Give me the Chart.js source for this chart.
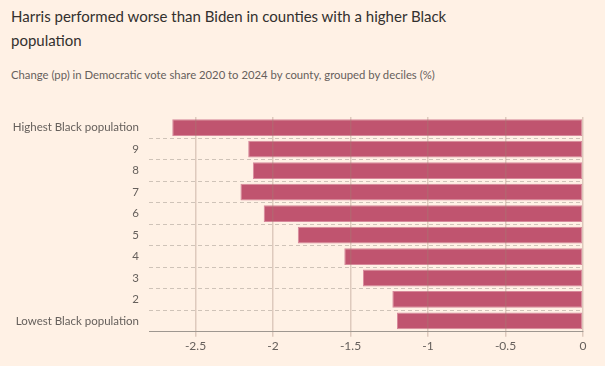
<!DOCTYPE html>
<html>
<head>
<meta charset="utf-8">
<script src="https://cdn.jsdelivr.net/npm/chart.js@4/dist/chart.umd.min.js"></script>
<style>
    body { margin: 0; background: #fff1e5; width: 605px; height: 366px; overflow: hidden; position: relative; font-family: Lato, "Open Sans", sans-serif; }
    h1 { position: absolute; left: 11px; top: 4px; width: 560px; margin: 0; font-size: 15px; line-height: 24px; font-weight: normal; color: #33302e; }
    p { position: absolute; left: 11px; top: 68px; margin: 0; font-size: 11.3px; color: #66605c; }
    #wrap { position: absolute; left: 0; top: 100px; width: 605px; height: 266px; }
</style>
</head>
<body>
<h1>Harris performed worse than Biden in counties with a higher Black<br>population</h1>
<p>Change (pp) in Democratic vote share 2020 to 2024 by county, grouped by deciles (%)</p>
<div id="wrap"><canvas id="canvas1"></canvas></div>
<script>
// deciles, top to bottom
const deciles = ["Highest Black population", "9", "8", "7", "6", "5", "4", "3", "2", "Lowest Black population"]
const voteChange = [-2.65, -2.16, -2.13, -2.21, -2.06, -1.84, -1.54, -1.42, -1.23, -1.2]
const xTickValues = [-2.5, -2, -1.5, -1, -0.5, 0]

const ctx = document.querySelector("#canvas1")
const myBarChart = new Chart(ctx, {
    type: 'bar',
    data: {
        labels: deciles,
        datasets: [{
            data: voteChange,
            backgroundColor: "#c0546f",
            borderColor: "#d7899b",
            borderWidth: 1,
            borderSkipped: false,
            categoryPercentage: 0.78,
            barPercentage: 1
        }]
    },
    options: {
        indexAxis: 'y',
        responsive: true,
        maintainAspectRatio: false,
        animation: false,
        layout: { padding: { top: 15, right: 22, bottom: 0, left: 0 } },
        plugins: {
            legend: { display: false },
            tooltip: { enabled: false }
        },
        scales: {
            x: {
                min: -2.8,
                max: 0,
                afterBuildTicks: (scale) => {
                    scale.ticks = xTickValues.map(v => ({ value: v }))
                },
                afterFit: (scale) => { scale.height = 34.3 },
                // border on same layer as the grid so it draws after it
                border: { display: true, color: "#9e9790", width: 1, z: 1 },
                grid: {
                    color: "rgba(160,130,115,0.35)",
                    lineWidth: 1.5,
                    tickLength: 5,
                    z: 1
                },
                ticks: {
                    color: "#66605c",
                    padding: 2,
                    font: { family: "Lato", size: 12 },
                    callback: (v) => String(v)
                }
            },
            y: {
                afterFit: (scale) => { scale.width = 149 },
                grid: {
                    offset: true,
                    drawTicks: false,
                    // dashed lines only between rows
                    color: (c) => (c.index > 0 ? "#cfc3b8" : "rgba(0,0,0,0)"),
                    lineWidth: 1
                },
                border: { display: false, dash: [4, 3] },
                ticks: {
                    color: "#66605c",
                    padding: 10,
                    font: { family: "Lato", size: 11.5 }
                }
            }
        }
    }
});
</script>
</body>
</html>
